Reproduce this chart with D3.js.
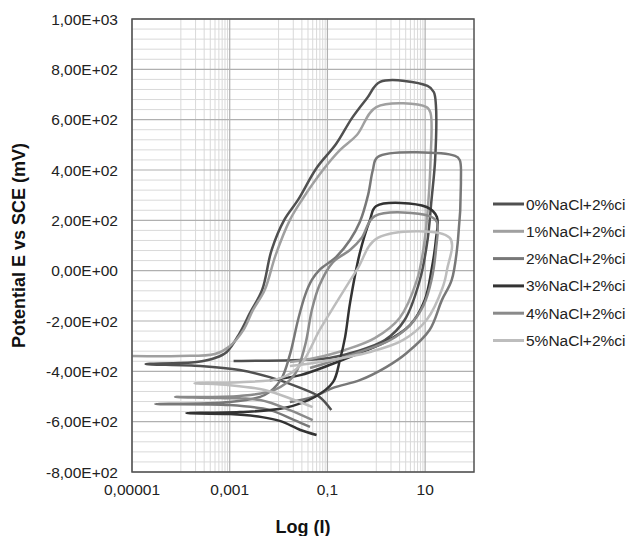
<!DOCTYPE html>
<html>
<head>
<meta charset="utf-8">
<script src="https://cdn.jsdelivr.net/npm/d3@7"></script>
<style>
  body { margin: 0; background: #fff; }
  svg { display: block; font-family: "Liberation Sans", Arial, sans-serif; }
</style>
</head>
<body>
<div id="chart"></div>
<script>
// series names + colours (grayscale, as in the original Excel chart)
const seriesNames = ['0%NaCl+2%ci', '1%NaCl+2%ci', '2%NaCl+2%ci', '3%NaCl+2%ci', '4%NaCl+2%ci', '5%NaCl+2%ci'];
const seriesColors = ['#505050', '#a0a0a0', '#787878', '#333333', '#8a8a8a', '#bdbdbd'];

// [current I, potential E (mV)], in scan order
const nacl0 = [[0.12, -554], [0.069, -502], [0.028, -466], [6.6e-3, -423], [1.6e-3, -395], [2.5e-4, -379],
  [1.9e-5, -371], [2.1e-4, -363], [5.0e-4, -347], [8.7e-4, -323], [1.6e-3, -248], [2.6e-3, -168],
  [4.6e-3, -77], [7.2e-3, 82], [0.013, 201], [0.025, 281], [0.060, 408], [0.15, 503], [0.32, 607],
  [0.65, 686], [1.2, 750], [11.2, 734], [15, 710], [16.6, 658], [16, 440], [13.5, 281], [11.2, 122],
  [7.8, -37], [3.8, -196], [1.5, -276], [0.36, -323], [0.11, -347], [0.028, -355], [1.2e-3, -359]];

const nacl1 = [[1.0e-5, -339], [9.5e-5, -339], [5.0e-4, -331], [1.0e-3, -300], [1.9e-3, -236], [3.0e-3, -156],
  [5.2e-3, -77], [8.7e-3, 62], [0.017, 201], [0.030, 281], [0.081, 400], [0.18, 479], [0.40, 539],
  [1.0, 650], [10.7, 650], [12.9, 626], [12.9, 440], [11.7, 281], [9.8, 122], [6.8, -37], [3.0, -188],
  [0.93, -268], [0.23, -315], [0.055, -347], [0.017, -363]];

const nacl2 = [[0.044, -621], [0.021, -594], [6.6e-3, -554], [1.0e-3, -534], [3.0e-5, -530], [1.0e-3, -522],
  [5.2e-3, -494], [0.011, -435], [0.017, -335], [0.025, -196], [0.035, -97], [0.048, -37], [0.069, 3],
  [0.15, 54], [0.29, 122], [0.46, 193], [0.68, 301], [0.85, 400], [1.07, 452], [41, 456], [51, 440],
  [54, 360], [47, 122], [35, -37], [22, -117], [12.3, -236], [4.2, -327], [1.6, -383], [0.46, -435],
  [0.13, -466], [0.050, -502], [0.017, -522]];

const nacl3 = [[0.060, -653], [0.028, -633], [0.011, -598], [4.6e-3, -582], [1.0e-3, -570], [1.3e-4, -566],
  [1.6e-3, -562], [0.013, -546], [0.055, -502], [0.13, -443], [0.18, -355], [0.23, -264], [0.29, -129],
  [0.46, 70], [0.74, 201], [1.0, 257], [10.7, 253], [17.4, 213], [16.6, 122], [13.5, 3], [9.8, -117],
  [4.9, -216], [1.5, -284], [0.36, -335], [0.11, -375], [0.028, -415], [6.6e-3, -435]];

const nacl4 = [[0.050, -594], [0.017, -554], [4.2e-3, -514], [6.3e-4, -506], [7.6e-5, -502], [1.6e-3, -498],
  [8.3e-3, -474], [0.021, -415], [0.035, -296], [0.048, -156], [0.069, -57], [0.13, 34], [0.29, 82],
  [0.50, 130], [0.93, 217], [12.3, 217], [17.4, 193], [16.6, 82], [13.5, -37], [9.3, -137], [4.9, -216],
  [1.9, -276], [0.46, -323], [0.11, -363], [0.044, -387]];

const nacl5 = [[0.050, -542], [0.021, -514], [5.2e-3, -474], [1.0e-3, -455], [1.9e-4, -447], [1.6e-3, -443],
  [0.011, -427], [0.028, -375], [0.069, -236], [0.15, -129], [0.40, 3], [1.07, 130], [32, 130], [28, 3],
  [23, -65], [10.7, -196], [3.5, -276], [0.74, -323], [0.069, -363], [0.017, -379]];

const seriesData = [nacl0, nacl1, nacl2, nacl3, nacl4, nacl5];

const xTickValues = [1e-5, 1e-3, 0.1, 10];
const xTickLabels = ['0,00001', '0,001', '0,1', '10'];
const yTickValues = [-800, -600, -400, -200, 0, 200, 400, 600, 800, 1000];

const width = 633, height = 536;
const plot = { left: 132, right: 474, top: 19, bottom: 472 };

const svg = d3.select('#chart').append('svg')
  .attr('width', width)
  .attr('height', height);

const x = d3.scaleLog().domain([1e-5, 100]).range([plot.left, plot.right]);
const y = d3.scaleLinear().domain([-800, 1000]).range([plot.bottom, plot.top]);

// excel style: log base 100 so minor lines are 10..90 times each major
const xMinor = [];
[1e-5, 1e-3, 0.1, 10].forEach(m => {
  for (let k = 1; k <= 9; k++) xMinor.push(m * 10 * k);
});
const yMinor = d3.range(-800, 1000, 40).filter(v => v % 200 !== 0);

const grid = svg.append('g');
grid.selectAll('.xminor')
  .data(xMinor.filter(v => v < 100))
  .enter().append('line')
  .attr('x1', d => x(d)).attr('x2', d => x(d))
  .attr('y1', plot.top).attr('y2', plot.bottom)
  .attr('stroke', '#d9d9d9').attr('stroke-width', 1);

grid.selectAll('.yminor')
  .data(yMinor)
  .enter().append('line')
  .attr('x1', plot.left).attr('x2', plot.right)
  .attr('y1', d => y(d)).attr('y2', d => y(d))
  .attr('stroke', '#d9d9d9').attr('stroke-width', 1);

grid.selectAll('.xmajor')
  .data(xTickValues)
  .enter().append('line')
  .attr('x1', d => x(d)).attr('x2', d => x(d))
  .attr('y1', plot.top).attr('y2', plot.bottom)
  .attr('stroke', '#b0b0b0').attr('stroke-width', 1.2);

grid.selectAll('.ymajor')
  .data(yTickValues)
  .enter().append('line')
  .attr('x1', plot.left).attr('x2', plot.right)
  .attr('y1', d => y(d)).attr('y2', d => y(d))
  .attr('stroke', '#b0b0b0').attr('stroke-width', 1.2);

// curves
const line = d3.line()
  .x(d => x(d[0]))
  .y(d => y(d[1]))
  .curve(d3.curveCatmullRom.alpha(0.5));

svg.append('g')
  .selectAll('path')
  .data(seriesData)
  .enter().append('path')
  .attr('d', d => line(d))
  .attr('fill', 'none')
  .attr('stroke', (d, i) => seriesColors[i])
  .attr('stroke-width', 2.5)
  .attr('stroke-linejoin', 'round');

// plot border
svg.append('rect')
  .attr('x', plot.left).attr('y', plot.top)
  .attr('width', plot.right - plot.left).attr('height', plot.bottom - plot.top)
  .attr('fill', 'none').attr('stroke', '#505050').attr('stroke-width', 1.5);

// axes labels
const fmtE = v => {
  const [m, e] = v.toExponential(2).split('e');
  const sign = e[0] === '-' ? '-' : '+';
  const ex = e.replace(/[+-]/, '').padStart(2, '0');
  return m.replace('.', ',') + 'E' + sign + ex;
};

svg.append('g')
  .selectAll('text')
  .data(yTickValues)
  .enter().append('text')
  .attr('x', 118)
  .attr('y', d => y(d) + 5.5)
  .attr('text-anchor', 'end')
  .attr('font-size', '15.5px')
  .attr('fill', '#222')
  .text(d => fmtE(d));

svg.append('g')
  .selectAll('text')
  .data(xTickValues)
  .enter().append('text')
  .attr('x', d => x(d))
  .attr('y', 495)
  .attr('text-anchor', 'middle')
  .attr('font-size', '15.5px')
  .attr('fill', '#222')
  .text((d, i) => xTickLabels[i]);

svg.append('text')
  .attr('transform', 'translate(25,' + ((plot.top + plot.bottom) / 2) + ') rotate(-90)')
  .attr('text-anchor', 'middle')
  .attr('font-size', '18px')
  .attr('font-weight', 'bold')
  .attr('fill', '#111')
  .text('Potential E vs SCE (mV)');

svg.append('text')
  .attr('x', (plot.left + plot.right) / 2)
  .attr('y', 533)
  .attr('text-anchor', 'middle')
  .attr('font-size', '18px')
  .attr('font-weight', 'bold')
  .attr('fill', '#111')
  .text('Log (I)');

// legend
const legend = svg.append('g')
  .selectAll('g')
  .data(seriesNames)
  .enter().append('g')
  .attr('transform', (d, i) => 'translate(0,' + (204 + i * 27.3) + ')');

legend.append('line')
  .attr('x1', 493).attr('x2', 524)
  .attr('stroke', (d, i) => seriesColors[i])
  .attr('stroke-width', 3);

legend.append('text')
  .attr('x', 526)
  .attr('y', 5.5)
  .attr('font-size', '15.5px')
  .attr('fill', '#222')
  .text(d => d);
</script>
</body>
</html>
